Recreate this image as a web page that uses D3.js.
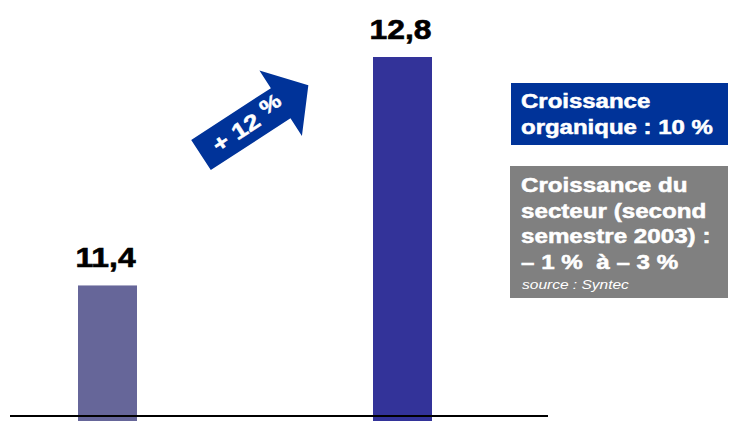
<!DOCTYPE html>
<html>
<head>
<meta charset="utf-8">
<script src="https://d3js.org/d3.v7.min.js"></script>
<style>
  body { margin: 0; background: #fff; }
  svg { font-family: "Liberation Sans", Arial, sans-serif; }
</style>
</head>
<body>
<div id="chart"></div>
<script>
// data
var periods = ["periode 1", "periode 2"];
var values = [11.4, 12.8];
var valueLabels = ["11,4", "12,8"];
var growthLabel = "+ 12 ";
var boxBlueLines = ["Croissance", "organique : 10 %"];
var boxGreyLines = ["Croissance du", "secteur (second", "semestre 2003) :", "\u2013 1 %  \u00e0 \u2013 3 %"];
var sourceText = "source : Syntec";

var W = 731, H = 421;
var svg = d3.select("#chart").append("svg").attr("width", W).attr("height", H);

var x = d3.scaleBand().domain(periods).range([78, 432]).paddingInner(0.8).paddingOuter(0);
var y = d3.scaleLinear().domain([10.6, 12.8]).range([416, 57]);

// the original font is wider and heavier than Arial, so stretch a bit
function wide(sel, sx) {
  sel.attr("transform", function() {
    var t = d3.select(this);
    return "translate(" + t.attr("x") + "," + t.attr("y") + ") scale(" + sx + ",1)";
  }).attr("x", 0).attr("y", 0);
}

// bars (they run a little past the baseline)
svg.selectAll("rect.bar")
  .data(values)
  .enter().append("rect")
  .attr("class", "bar")
  .attr("x", function(d, i) { return x(periods[i]); })
  .attr("width", x.bandwidth())
  .attr("y", function(d) { return y(d); })
  .attr("height", function(d) { return H - y(d); })
  .attr("fill", function(d, i) { return i == 0 ? "#666699" : "#333399"; });

// value labels
svg.selectAll("text.val")
  .data(values)
  .enter().append("text")
  .attr("class", "val")
  .attr("x", function(d, i) { return x(periods[i]) + x.bandwidth() / 2 - 2; })
  .attr("y", function(d) { return y(d) - 18; })
  .attr("text-anchor", "middle")
  .attr("stroke", "#000").attr("stroke-width", 0.6)
  .style("font-size", "27px")
  .style("font-weight", "bold")
  .text(function(d, i) { return valueLabels[i]; })
  .call(wide, 1.18);

// baseline
svg.append("line")
  .attr("x1", 10).attr("x2", 548)
  .attr("y1", 416).attr("y2", 416)
  .attr("stroke", "#000").attr("stroke-width", 2);

// growth arrow
var arrow = svg.append("g").attr("transform", "translate(201,155) rotate(-33)");
arrow.append("path")
  .attr("d", "M0,-18 L95,-18 L95,-39 L128,0 L95,39 L95,18 L0,18 Z")
  .attr("fill", "#003399");
var t = arrow.append("text")
  .attr("x", 56).attr("y", 8)
  .attr("text-anchor", "middle")
  .attr("fill", "#fff")
  .attr("stroke", "#fff").attr("stroke-width", 0.5)
  .style("font-size", "22px")
  .style("font-weight", "bold")
  .text(growthLabel);
t.append("tspan").attr("dy", -6).style("font-size", "20px").text("%");
t.call(wide, 1.2);

// blue box
svg.append("rect").attr("x", 511).attr("y", 83).attr("width", 217).attr("height", 62).attr("fill", "#003399");
svg.selectAll("text.blue")
  .data(boxBlueLines)
  .enter().append("text")
  .attr("class", "blue")
  .attr("x", 521)
  .attr("y", function(d, i) { return 108 + i * 26; })
  .attr("fill", "#fff")
  .attr("stroke", "#fff").attr("stroke-width", 0.5)
  .style("font-size", "19.5px")
  .style("font-weight", "bold")
  .text(function(d) { return d; })
  .call(wide, 1.23);

// grey box
svg.append("rect").attr("x", 510).attr("y", 166).attr("width", 218).attr("height", 132).attr("fill", "#808080");
svg.selectAll("text.grey")
  .data(boxGreyLines)
  .enter().append("text")
  .attr("class", "grey")
  .attr("x", 521)
  .attr("y", function(d, i) { return 192 + i * 25.5; })
  .attr("fill", "#fff")
  .attr("stroke", "#fff").attr("stroke-width", 0.5)
  .style("font-size", "19.5px")
  .style("font-weight", "bold")
  .style("white-space", "pre")
  .text(function(d) { return d; })
  .call(wide, 1.24);
svg.append("text")
  .attr("x", 522).attr("y", 289)
  .attr("fill", "#fff")
  .style("font-size", "13.5px")
  .style("font-style", "italic")
  .text(sourceText)
  .call(wide, 1.15);
</script>
</body>
</html>
